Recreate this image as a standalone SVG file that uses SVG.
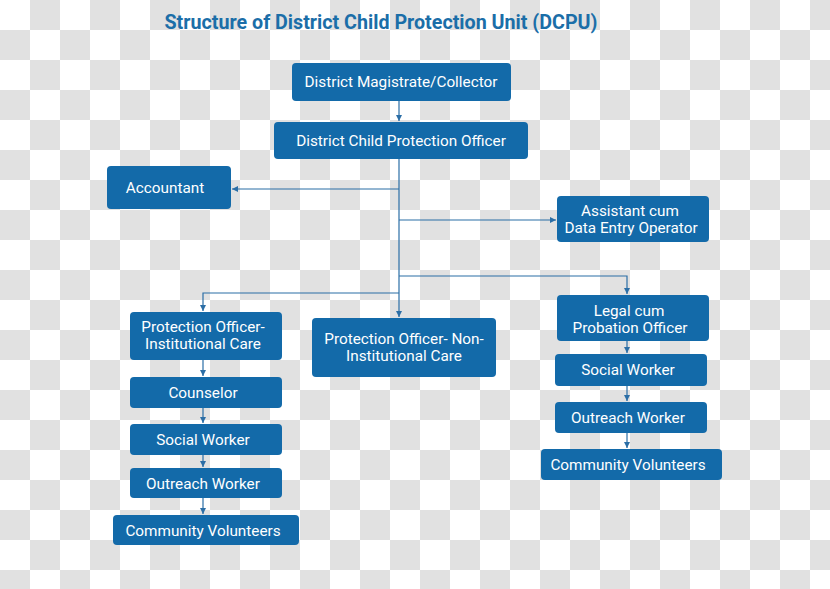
<svg xmlns="http://www.w3.org/2000/svg" width="830" height="589" viewBox="0 0 830 589">
<defs>
<pattern id="checker" x="0" y="0" width="60" height="60" patternUnits="userSpaceOnUse">
<rect x="0" y="0" width="60" height="60" fill="#ffffff"/>
<rect x="30" y="0" width="30" height="30" fill="#e1e1e1"/>
<rect x="0" y="30" width="30" height="30" fill="#e1e1e1"/>
</pattern>
<marker id="arr" viewBox="0 0 10 10" refX="10" refY="5" markerWidth="6" markerHeight="6" orient="auto" markerUnits="userSpaceOnUse">
<path d="M0,0 L10,5 L0,10 z" fill="#2b6ea6"/>
</marker>
</defs>
<style>
.box{fill:#136aa9;}
.t{fill:#ffffff;font-family:Roboto,"Liberation Sans",sans-serif;font-size:15.3px;text-anchor:middle;}
.title{fill:#1b6ea8;font-family:Roboto,"Liberation Sans",sans-serif;font-size:19.7px;font-weight:bold;text-anchor:middle;}
.c{fill:none;stroke:#2b6ea6;stroke-width:1.2;}
</style>
<rect x="0" y="0" width="830" height="589" fill="url(#checker)"/>
<text class="title" x="381" y="29">Structure of District Child Protection Unit (DCPU)</text>
<g id="connectors">
<path class="c" d="M399,101 V121" marker-end="url(#arr)"/>
<path class="c" d="M399,159 V317"  marker-end="url(#arr)"/>
<path class="c" d="M399,189 H232" marker-end="url(#arr)"/>
<path class="c" d="M399,220 H556" marker-end="url(#arr)"/>
<path class="c" d="M399,276 H627 V294" marker-end="url(#arr)"/>
<path class="c" d="M399,293 H203 V311" marker-end="url(#arr)"/>
<path class="c" d="M203,360 V376" marker-end="url(#arr)"/>
<path class="c" d="M203,408 V423" marker-end="url(#arr)"/>
<path class="c" d="M203,455 V467" marker-end="url(#arr)"/>
<path class="c" d="M203,498 V514" marker-end="url(#arr)"/>
<path class="c" d="M627,341 V353" marker-end="url(#arr)"/>
<path class="c" d="M627,386 V401" marker-end="url(#arr)"/>
<path class="c" d="M627,433 V448" marker-end="url(#arr)"/>
</g>
<g id="dm"><rect class="box" x="292" y="63" width="219" height="38" rx="4"/><text class="t" x="401" y="87">District Magistrate/Collector</text></g>
<g id="dcpo"><rect class="box" x="274" y="122" width="254" height="37" rx="4"/><text class="t" x="401" y="145.5">District Child Protection Officer</text></g>
<g id="accountant"><rect class="box" x="107" y="166" width="124" height="43" rx="4"/><text class="t" x="165" y="192.5">Accountant</text></g>
<g id="assistant"><rect class="box" x="557" y="196" width="152" height="46" rx="4"/><text class="t" x="630" y="216">Assistant cum</text><text class="t" x="631" y="233">Data Entry Operator</text></g>
<g id="po-ic"><rect class="box" x="130" y="312" width="152" height="48" rx="4"/><text class="t" x="203" y="332">Protection Officer-</text><text class="t" x="203" y="349">Institutional Care</text></g>
<g id="po-nic"><rect class="box" x="312" y="318" width="184" height="59" rx="4"/><text class="t" x="404" y="344">Protection Officer- Non-</text><text class="t" x="404" y="361">Institutional Care</text></g>
<g id="legal"><rect class="box" x="557" y="295" width="152" height="46" rx="4"/><text class="t" x="629" y="316">Legal cum</text><text class="t" x="630" y="333">Probation Officer</text></g>
<g id="counselor"><rect class="box" x="130" y="377" width="152" height="31" rx="4"/><text class="t" x="203" y="397.5">Counselor</text></g>
<g id="social-left"><rect class="box" x="130" y="424" width="152" height="31" rx="4"/><text class="t" x="203" y="444.5">Social Worker</text></g>
<g id="outreach-left"><rect class="box" x="130" y="468" width="152" height="30" rx="4"/><text class="t" x="203" y="488.5">Outreach Worker</text></g>
<g id="community-left"><rect class="box" x="113" y="515" width="186" height="30" rx="4"/><text class="t" x="203" y="535.5">Community Volunteers</text></g>
<g id="social-right"><rect class="box" x="555" y="354" width="152" height="32" rx="4"/><text class="t" x="628" y="374.5">Social Worker</text></g>
<g id="outreach-right"><rect class="box" x="555" y="402" width="152" height="31" rx="4"/><text class="t" x="628" y="422.5">Outreach Worker</text></g>
<g id="community-right"><rect class="box" x="541" y="449" width="181" height="31" rx="4"/><text class="t" x="628" y="470">Community Volunteers</text></g>
</svg>
